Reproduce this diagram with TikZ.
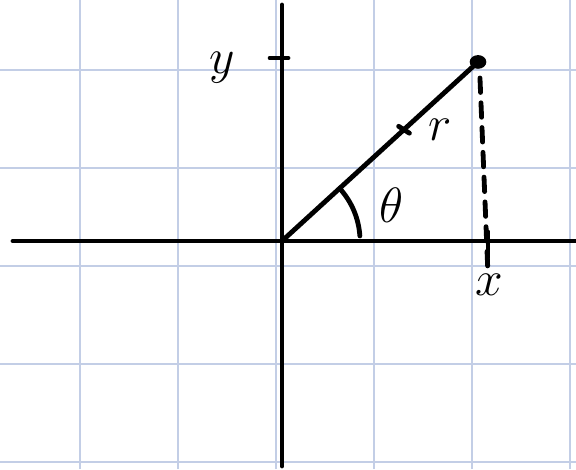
\documentclass[tikz,border=0pt]{standalone}
\usepackage{amsmath}
\usepackage{xcolor}
\usepackage{tikz}
\usetikzlibrary{
  arrows.meta,
  positioning,
  calc
}
\definecolor{gridblue}{HTML}{C3CEE6}

\begin{document}
\begin{tikzpicture}[scale=1.0,
  axisline/.style={line width=1.4pt,line cap=round},
  gridline/.style={gridblue,line width=0.35pt},
  lbl/.style={font=\Large}]
\useasboundingbox (-2.878,-2.327) rectangle (3.0,2.459);

% grid paper
\foreach \gx in {-2.061,-1.061,-0.061,0.939,1.939,2.939}
  \draw[gridline] (\gx,-2.327) -- (\gx,2.459);
\foreach \gy in {1.745,0.745,-0.255,-1.255,-2.255}
  \draw[gridline] (-2.878,\gy) -- (3.0,\gy);

% axes
\coordinate (O) at (0,0);
\coordinate (xl) at (-2.745,0);
\coordinate (xr) at (3.0,0);
\coordinate (yb) at (0,-2.296);
\coordinate (yt) at (0,2.408);
\draw[axisline] (xl) -- (xr);
\draw[axisline] (yb) -- (yt);

% ticks
\coordinate (ytl) at (-0.122,1.867);
\coordinate (ytr) at (0.061,1.867);
\draw[axisline] (ytl) -- (ytr);
\coordinate (xtt) at (2.102,0.092);
\coordinate (xtb) at (2.102,-0.163);
\draw[axisline] (xtt) -- (xtb);

% the point and its radius
\coordinate (P) at (2.0,1.827);
\draw[axisline] (O) -- (P);
\fill (P) ellipse (0.085 and 0.07);
\coordinate (dtop) at (2.02,1.663);
\coordinate (dbot) at (2.10,-0.296);
\draw[axisline,dash pattern=on 4.2pt off 3pt] (dtop) -- (dbot);

% little mark on r
\coordinate (ma) at (1.19,1.17);
\coordinate (mb) at (1.30,1.10);
\draw[axisline] (ma) -- (mb);

% angle
\draw[axisline] (3.7:0.796) arc (3.7:42.4:0.796);

% labels
\node[lbl] (ylab) at (-0.612,1.765) {$y$};
\node[lbl] (xlab) at (2.112,-0.45) {$x$};
\node[lbl] (rlab) at (1.612,1.133) {$r$};
\node[lbl] (tlab) at (1.112,0.367) {$\theta$};

\end{tikzpicture}
\end{document}
